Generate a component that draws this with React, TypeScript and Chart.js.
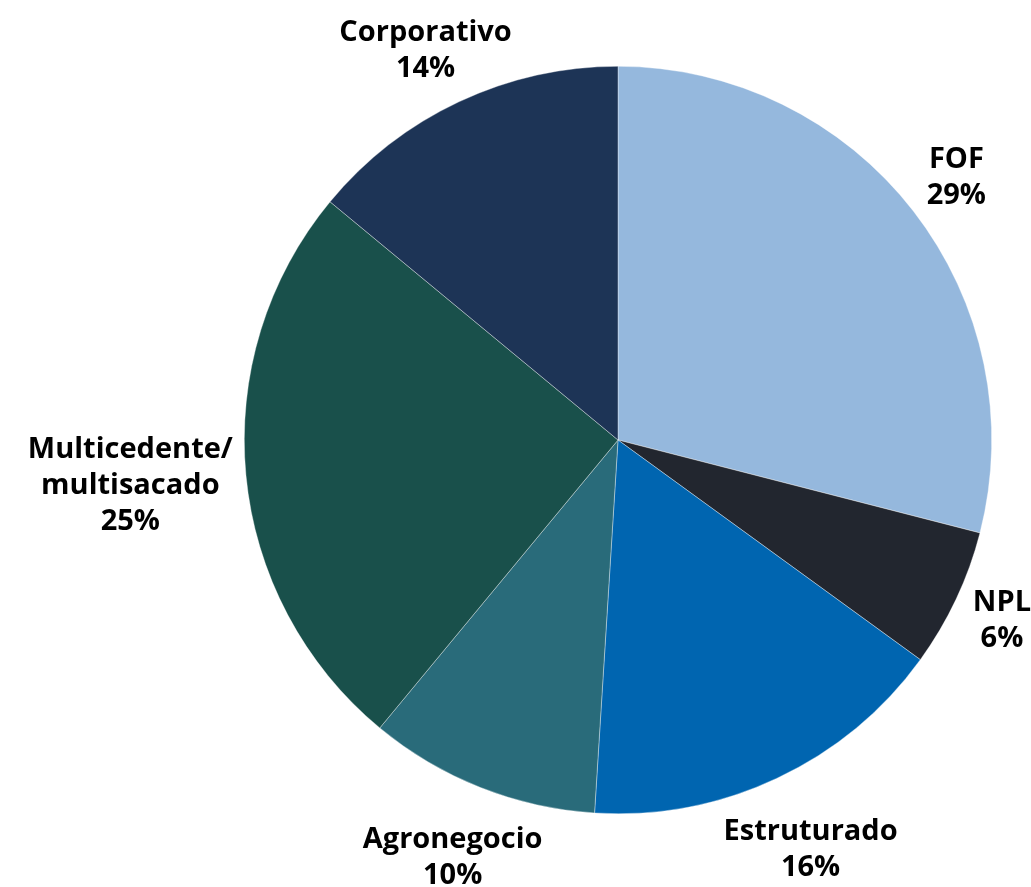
import React, { useEffect, useRef } from "react";
import { Chart, registerables } from "chart.js";

Chart.register(...registerables);

const categories: string[] = ["FOF", "NPL", "Estruturado", "Agronegocio", "Multicedente/\nmultisacado", "Corporativo"];
const values: number[] = [29, 6, 16, 10, 25, 14];
const colors: string[] = ["#95B8DD", "#22262F", "#0065B0", "#296B7A", "#19504B", "#1D3456"];

const FONT = "bold 29px 'Open Sans', 'Noto Sans', sans-serif";
const LINE_H = 36;
const GAP = 9;

const outsideLabels = {
  id: "outsideLabels",
  afterDraw(chart: any) {
    const ctx = chart.ctx as CanvasRenderingContext2D;
    const meta = chart.getDatasetMeta(0);
    const data = chart.data.datasets[0].data as number[];
    const total = data.reduce((a, b) => a + b, 0);
    ctx.save();
    ctx.font = FONT;
    ctx.fillStyle = "#000000";
    ctx.textAlign = "center";
    ctx.textBaseline = "middle";
    meta.data.forEach((arc: any, i: number) => {
      const { x, y, startAngle, endAngle, outerRadius } = arc.getProps(
        ["x", "y", "startAngle", "endAngle", "outerRadius"],
        true
      );
      const mid = (startAngle + endAngle) / 2;
      const c = Math.cos(mid);
      const s = Math.sin(mid);
      const lines = String(chart.data.labels[i]).split("\n");
      lines.push(Math.round((data[i] / total) * 100) + "%");
      const w = Math.max(...lines.map((l) => ctx.measureText(l).width)) / 2;
      const h = (lines.length * LINE_H) / 2;
      const dist = outerRadius + GAP + Math.abs(c) * w + Math.abs(s) * h;
      let cx = x + c * dist;
      let cy = y + s * dist;
      if (cy - h < 15) cy = 15 + h;
      if (cy + h > chart.height + 8) cy = chart.height + 8 - h;
      lines.forEach((l, k) => {
        ctx.fillText(l, cx, cy - h + LINE_H / 2 + k * LINE_H);
      });
    });
    ctx.restore();
  },
};

export default function App() {
  const ref = useRef<HTMLCanvasElement>(null);
  useEffect(() => {
    document.body.style.margin = "0";
    const chart = new Chart(ref.current!, {
      type: "pie",
      data: {
        labels: categories,
        datasets: [
          {
            data: values,
            backgroundColor: colors,
            borderColor: "rgba(255,255,255,0.6)",
            borderWidth: 0.6,
          },
        ],
      },
      options: {
        responsive: false,
        animation: false,
        rotation: 0,
        layout: { padding: { left: 244, right: 39, top: 66, bottom: 73 } },
        plugins: { legend: { display: false }, tooltip: { enabled: false } },
      },
      plugins: [outsideLabels],
    });
    return () => chart.destroy();
  }, []);
  return (
    <div style={{ width: 1031, height: 887, background: "#fff" }}>
      <canvas ref={ref} width={1031} height={887} style={{ display: "block" }} />
    </div>
  );
}
